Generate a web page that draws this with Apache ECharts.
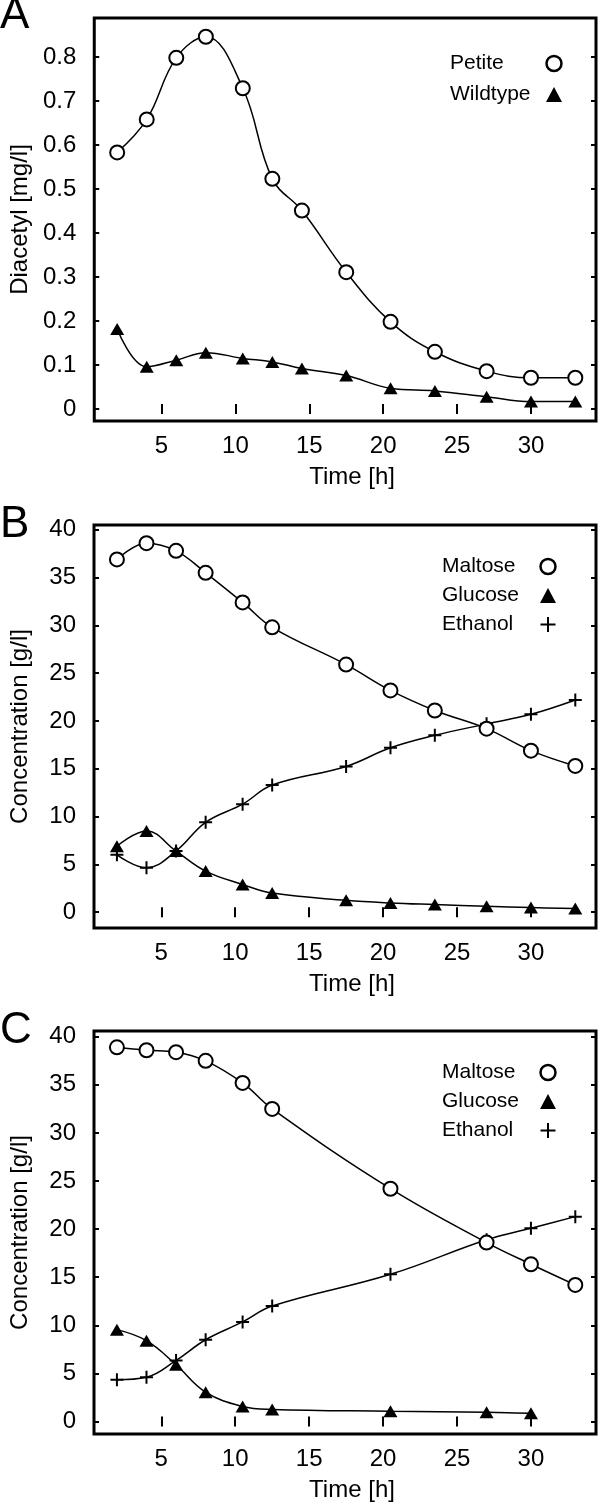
<!DOCTYPE html>
<html><head><meta charset="utf-8">
<script src="https://cdn.jsdelivr.net/npm/echarts@6/dist/echarts.min.js"></script>
<style>html,body{margin:0;padding:0;background:#fff}#c{width:600px;height:1504px}</style>
</head><body><div id="c"></div>
<script>
// ---- data ----
const xTicks = [5, 10, 15, 20, 25, 30];
const yTicksA = [0, 0.1, 0.2, 0.3, 0.4, 0.5, 0.6, 0.7, 0.8];
const yTicksBC = [0, 5, 10, 15, 20, 25, 30, 35, 40];

const tA = [2, 4, 6, 8, 10.5, 12.5, 14.5, 17.5, 20.5, 23.5, 27, 30, 33];
const petite = [0.583, 0.658, 0.798, 0.846, 0.729, 0.523, 0.451, 0.311, 0.198, 0.130, 0.086, 0.071, 0.071];
const wildtype = [0.182, 0.096, 0.111, 0.128, 0.115, 0.107, 0.092, 0.076, 0.047, 0.041, 0.028, 0.017, 0.017];

const tB = [2, 4, 6, 8, 10.5, 12.5, 17.5, 20.5, 23.5, 27, 30, 33];
const maltoseB = [36.9, 38.6, 37.8, 35.5, 32.4, 29.8, 25.9, 23.2, 21.1, 19.2, 16.9, 15.3];
const glucoseB = [6.9, 8.5, 6.4, 4.3, 2.9, 2.0, 1.25, 0.97, 0.8, 0.62, 0.49, 0.38];
const ethanolB = [6.0, 4.65, 6.4, 9.4, 11.3, 13.3, 15.25, 17.2, 18.5, 19.7, 20.7, 22.2];

const tC = [2, 4, 6, 8, 10.5, 12.5, 20.5, 27, 30, 33];
const maltoseC = [38.9, 38.6, 38.4, 37.5, 35.2, 32.5, 24.2, 18.6, 16.35, 14.2];
const ethanolC = [4.34, 4.6, 6.35, 8.5, 10.35, 12.0, 15.3, 18.9, 20.1, 21.3];
const tCg = [2, 4, 6, 8, 10.5, 12.5, 20.5, 27, 30];
const glucoseC = [9.55, 8.4, 5.9, 3.05, 1.56, 1.25, 1.07, 0.97, 0.86];

// ---- helpers ----
const FONT = 'Liberation Sans, Arial, Helvetica, sans-serif';
const pairs = (ts, vs) => ts.map((t, i) => [t, vs[i]]);
const PLUS = 'path://M0,6H12M6,0V12';

const panels = [
  {top: 18, ymin: -0.0273, ymax: 0.8886, yTicks: yTicksA, yName: 'Diacetyl [mg/l]'},
  {top: 525, ymin: -1.65, ymax: 40.5, yTicks: yTicksBC, yName: 'Concentration [g/l]'},
  {top: 1031, ymin: -1.3, ymax: 40.6, yTicks: yTicksBC, yName: 'Concentration [g/l]'}
];
const GL = 87, GW = 509, GH = 403;

const tick = vals => ({show: true, inside: true, length: 5, lineStyle: {color: '#000', width: 2}, customValues: vals});
const grids = [], xAxes = [], yAxes = [];
panels.forEach((p, i) => {
  grids.push({left: GL, top: p.top, width: GW, height: GH, show: true, borderColor: '#000', borderWidth: 3, backgroundColor: 'rgba(0,0,0,0)'});
  xAxes.push({
    type: 'value', gridIndex: i, min: 0.45, max: 34.4, position: 'bottom',
    axisLine: {show: false}, splitLine: {show: false}, axisTick: tick(xTicks),
    axisLabel: {customValues: xTicks, color: '#000', fontSize: 24, fontFamily: FONT, margin: 13},
    name: 'Time [h]', nameLocation: 'middle', nameGap: 44,
    nameTextStyle: {color: '#000', fontSize: 24, fontFamily: FONT, padding: [0, 0, 0, 14]}
  });
  xAxes.push({
    type: 'value', gridIndex: i, min: 0.45, max: 34.4, position: 'top',
    axisLine: {show: false}, splitLine: {show: false}, axisTick: tick(xTicks), axisLabel: {show: false}
  });
  yAxes.push({
    type: 'value', gridIndex: i, min: p.ymin, max: p.ymax, position: 'left',
    axisLine: {show: false}, splitLine: {show: false}, axisTick: tick(p.yTicks),
    axisLabel: {customValues: p.yTicks, color: '#000', fontSize: 24, fontFamily: FONT, margin: 18},
    name: p.yName, nameLocation: 'middle', nameGap: 62, nameRotate: 90,
    nameTextStyle: {color: '#000', fontSize: 24, fontFamily: FONT}
  });
  yAxes.push({
    type: 'value', gridIndex: i, min: p.ymin, max: p.ymax, position: 'right',
    axisLine: {show: false}, splitLine: {show: false}, axisTick: tick(p.yTicks), axisLabel: {show: false}
  });
});

const circleS = (name, data, gi) => ({
  type: 'line', name, data, xAxisIndex: 2 * gi, yAxisIndex: 2 * gi, smooth: 0.4,
  symbol: 'circle', symbolSize: 14, showAllSymbol: true,
  itemStyle: {color: '#fff', borderColor: '#000', borderWidth: 2},
  lineStyle: {color: '#000', width: 1.5}, z: 3
});
const triS = (name, data, gi) => ({
  type: 'line', name, data, xAxisIndex: 2 * gi, yAxisIndex: 2 * gi, smooth: 0.4,
  symbol: 'triangle', symbolSize: [14, 12], showAllSymbol: true,
  itemStyle: {color: '#000', borderWidth: 0},
  lineStyle: {color: '#000', width: 1.5}, z: 2
});
const plusS = (name, data, gi) => ({
  type: 'line', name, data, xAxisIndex: 2 * gi, yAxisIndex: 2 * gi, smooth: 0.4,
  symbol: PLUS, symbolSize: 13, showAllSymbol: true,
  itemStyle: {color: 'rgba(0,0,0,0)', borderColor: '#000', borderWidth: 2},
  lineStyle: {color: '#000', width: 1.5}, z: 2
});

const series = [
  circleS('Petite', pairs(tA, petite), 0),
  triS('Wildtype', pairs(tA, wildtype), 0),
  circleS('Maltose', pairs(tB, maltoseB), 1),
  triS('Glucose', pairs(tB, glucoseB), 1),
  plusS('Ethanol', pairs(tB, ethanolB), 1),
  circleS('Maltose', pairs(tC, maltoseC), 2),
  triS('Glucose', pairs(tCg, glucoseC), 2),
  plusS('Ethanol', pairs(tC, ethanolC), 2)
];

const legItem = {
  circle: n => ({name: n, icon: 'circle', itemStyle: {color: '#fff', borderColor: '#000', borderWidth: 2.5}}),
  tri: n => ({name: n, icon: 'triangle', itemStyle: {color: '#000', borderWidth: 0}}),
  plus: n => ({name: n, icon: PLUS, itemStyle: {color: 'rgba(0,0,0,0)', borderColor: '#000', borderWidth: 2}})
};
const mkLegend = (left, top, gap, w, data) => ({
  orient: 'vertical', left, top, padding: 0, itemGap: gap, align: 'right',
  itemWidth: 16, itemHeight: 15, selectedMode: false, data,
  formatter: n => '{a|' + n + '}',
  textStyle: {color: '#000', fontSize: 21, fontFamily: FONT, lineHeight: 20,
    rich: {a: {width: w, align: 'left', fontSize: 21, fontFamily: FONT, color: '#000', lineHeight: 20}}}
});

const legends = [
  mkLegend(450, 53, 10, 91, [legItem.circle('Petite'), legItem.tri('Wildtype')]),
  mkLegend(442, 556, 8, 93, [legItem.circle('Maltose'), legItem.tri('Glucose'), legItem.plus('Ethanol')]),
  mkLegend(442, 1062, 8, 93, [legItem.circle('Maltose'), legItem.tri('Glucose'), legItem.plus('Ethanol')])
];

const letters = [['A', -6], ['B', 503], ['C', 1009]].map(([t, y]) => ({
  type: 'text', left: 0, top: y,
  style: {text: t, fontSize: 44, fontFamily: FONT, fill: '#000'}
}));

const chart = echarts.init(document.getElementById('c'), null, {renderer: 'canvas'});
chart.setOption({
  animation: false,
  backgroundColor: '#fff',
  grid: grids, xAxis: xAxes, yAxis: yAxes,
  legend: legends, series,
  graphic: letters
});
</script></body></html>
